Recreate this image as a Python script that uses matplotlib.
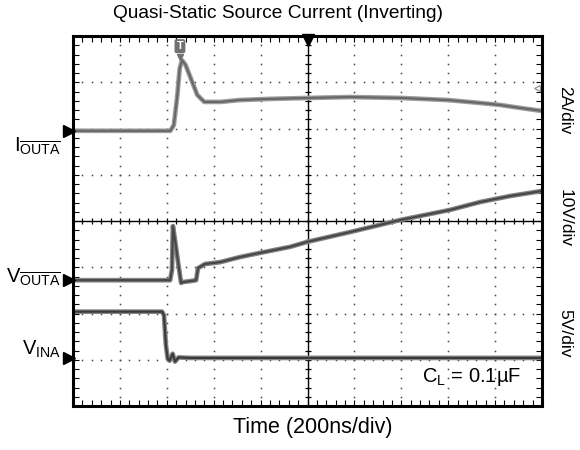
import numpy as np
import matplotlib
matplotlib.use('Agg')
import matplotlib.pyplot as plt

plt.rcParams['font.family'] = ['Liberation Sans', 'DejaVu Sans']
plt.rcParams['mathtext.fontset'] = 'custom'
plt.rcParams['mathtext.rm'] = 'Liberation Sans'
plt.rcParams['mathtext.it'] = 'Liberation Sans:italic'

# Scope settings: 200 ns/div horizontally, 10 x 8 divisions
ns_per_div = 200
n_xdiv = 10
n_ydiv = 8

# channel scales (units per div) and ground marker positions (div from centre)
i_out_scale, i_out_gnd = 2.0, 1.95      # A/div
v_out_scale, v_out_gnd = 10.0, -1.28    # V/div
v_in_scale, v_in_gnd = 5.0, -2.96       # V/div

# I_OUTA trace (ns, A)
t_iout = [-1000, -585, -570, -555, -545, -535, -520, -495, -470, -440, -370,
          -290, -160, 0, 180, 400, 600, 740, 820, 900, 1000]
i_out = [0.0, 0.0, 0.25, 1.55, 2.7, 3.05, 2.85, 2.2, 1.55, 1.25, 1.25,
         1.33, 1.38, 1.42, 1.46, 1.42, 1.33, 1.2, 1.12, 1.0, 0.86]

# V_OUTA trace (ns, V)
t_vout = [-1000, -586, -578, -574, -565, -552, -539, -531, -501, -475, -467,
          -437, -373, -288, -203, -75, 0, 181, 394, 608, 736, 864, 1000]
v_out = [0.0, 0.0, 2.2, 11.7, 8.7, 3.9, -0.6, -0.4, -0.2, 0.0, 2.6,
         3.5, 3.9, 5.0, 5.9, 7.2, 8.3, 10.4, 13.0, 15.2, 16.9, 18.2, 19.3]

# V_INA trace (ns, V)
t_vin = [-1000, -620, -612, -604, -596, -588, -575, -565, -550, -500, 1000]
v_in = [5.0, 5.0, 4.6, 1.4, -0.1, -0.3, 0.45, -0.4, 0.05, 0.0, 0.0]

fig = plt.figure(figsize=(5.8, 4.5), dpi=100)
ax = fig.add_axes([73 / 580, 44 / 450, 469 / 580, 370 / 450])

xlim = (-n_xdiv / 2 * ns_per_div, n_xdiv / 2 * ns_per_div)
ylim = (-n_ydiv / 2, n_ydiv / 2)
ax.set_xlim(*xlim)
ax.set_ylim(*ylim)

# dotted graticule: one dot every 1/5 division
xs_minor = np.arange(xlim[0], xlim[1] + 1, ns_per_div / 5)
ys_minor = np.arange(ylim[0], ylim[1] + 0.01, 0.2)
for xv in np.arange(xlim[0] + ns_per_div, xlim[1], ns_per_div):
    if xv == 0:
        continue
    ax.plot(np.full_like(ys_minor, xv), ys_minor, ls='none', marker='s',
            ms=1.1, mew=0, color='#444444')
for yv in range(int(ylim[0]) + 1, int(ylim[1])):
    if yv == 0:
        continue
    ax.plot(xs_minor, np.full_like(xs_minor, yv), ls='none', marker='s',
            ms=1.1, mew=0, color='#444444')

# centre cross with small ticks
ax.axhline(0, color='black', lw=1.0)
ax.axvline(0, color='black', lw=1.0)
ax.plot(np.zeros_like(ys_minor), ys_minor, ls='none', marker='_', ms=4,
        mew=0.9, color='black')
ax.plot(xs_minor, np.zeros_like(xs_minor), ls='none', marker='|', ms=4,
        mew=0.9, color='black')

# traces: grey band for the noise, darker core on top
def trace(t, vals, scale, gnd, band, core):
    y = np.array(vals) / scale + gnd
    ax.plot(t, y, color=band, lw=3.4, solid_joinstyle='round')
    ax.plot(t, y, color=core, lw=1.6, solid_joinstyle='round')

trace(t_iout, i_out, i_out_scale, i_out_gnd, '#9e9e9e', '#686868')
trace(t_vout, v_out, v_out_scale, v_out_gnd, '#858585', '#474747')
trace(t_vin, v_in, v_in_scale, v_in_gnd, '#858585', '#3a3a3a')

# ground markers on the left edge and trigger position on top
for g in (i_out_gnd, v_out_gnd, v_in_gnd):
    ax.plot(xlim[0] - 15, g, marker='>', ms=9, color='black', clip_on=False,
            zorder=6)
ax.plot(0, ylim[1] - 0.08, marker='v', ms=8, color='black', clip_on=False,
        zorder=6)

# trigger point and trigger level markers
ax.text(-544, 3.78, 'T', ha='center', va='center', fontsize=8,
        color='white', fontweight='bold',
        bbox=dict(boxstyle='round,pad=0.12', fc='#707070', ec='#707070'))
ax.plot(-544, 3.55, marker='v', ms=4.5, color='#707070', zorder=5)
ax.plot(979, 2.88, marker='<', ms=5, mfc='white', mec='#999999', mew=1.0,
        clip_on=False)

# edge ticks every 1/5 division
ax.set_xticks(np.arange(xlim[0], xlim[1] + 1, ns_per_div))
ax.set_xticks(xs_minor, minor=True)
ax.set_yticks(np.arange(ylim[0], ylim[1] + 1, 1))
ax.set_yticks(ys_minor, minor=True)
ax.tick_params(which='both', direction='in', length=4, width=0.8,
               top=True, right=True, labelbottom=False, labelleft=False)
for sp in ax.spines.values():
    sp.set_linewidth(2.2)

fig.text(278 / 580, 1 - 13 / 450, 'Quasi-Static Source Current (Inverting)',
         ha='center', va='center', fontsize=13.8)
fig.text(313 / 580, 1 - 428 / 450, 'Time (200ns/div)', ha='center',
         va='center', fontsize=15.5)

# channel labels
fig.text(61 / 580, 1 - 147 / 450, r'$\mathregular{I_{\overline{OUTA}}}$',
         ha='right', va='center', fontsize=14.5)
fig.text(61 / 580, 1 - 278 / 450, r'$\mathregular{V_{\overline{OUTA}}}$',
         ha='right', va='center', fontsize=14.5)
fig.text(61 / 580, 1 - 349 / 450, r'$\mathregular{V_{INA}}$',
         ha='right', va='center', fontsize=14.5)

for yp, s in ((110, '2A/div'), (218, '10V/div'), (333, '5V/div')):
    fig.text(565 / 580, 1 - yp / 450, s, ha='center', va='center',
             rotation=-90, fontsize=12.5)

fig.text(521 / 580, 1 - 377 / 450, r'C$_\mathregular{L}$ = 0.1µF',
         ha='right', va='center', fontsize=14.5)

fig.savefig('out.png', dpi=100)
